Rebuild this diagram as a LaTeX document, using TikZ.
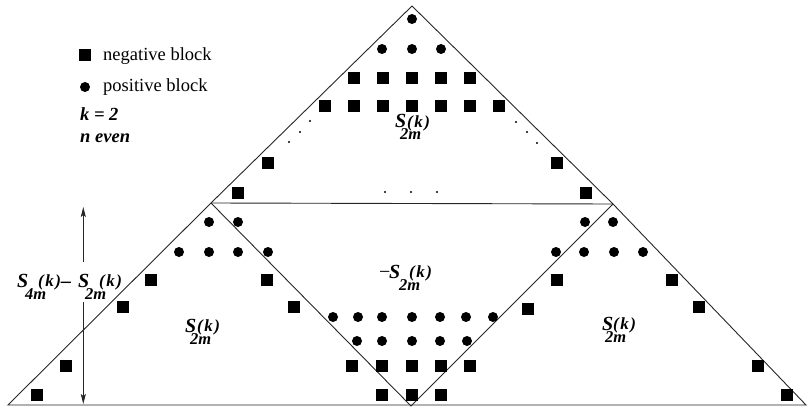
\documentclass[tikz,border=0pt]{standalone}
\usepackage{fontspec}
\setmainfont{Liberation Serif}
\usetikzlibrary{arrows.meta}
\newcommand{\bi}[1]{\textbf{\textit{#1}}}
% S with subscript #1, (k) offset #2, subscript offset #3
\newcommand{\Sk}[3]{\rlap{\fontsize{20}{20}\selectfont\bi{S}}\rlap{\kern#3\raisebox{-12pt}{\fontsize{16.5}{16.5}\selectfont\bi{#1}}}\kern#2\raisebox{0.5pt}{\fontsize{17}{17}\selectfont\bi{(\kern1.5pt k\kern1.5pt)}}}
\begin{document}
\begin{tikzpicture}[x=1pt,y=-1pt,
  edge/.style={draw=black!85,line width=0.9pt},
  negm/.style={rectangle,fill=black,minimum size=12pt,inner sep=0pt},
  posm/.style={circle,fill=black,minimum size=10pt,inner sep=0pt},
  dotm/.style={circle,fill=black,minimum size=2.4pt,inner sep=0pt},
  lbl/.style={anchor=base west,inner sep=0pt},
  legtext/.style={anchor=base west,inner sep=0pt,font=\fontsize{18.5}{20}\selectfont}]
\useasboundingbox (0,0) rectangle (808,409);
% corners
\coordinate (BL) at (8,405);
\coordinate (BR) at (806,405);
\coordinate (AP) at (412,6);
\coordinate (LA) at (211,203);
\coordinate (RA) at (613,204);
\coordinate (MB) at (411,406);
% outline
\draw[edge] (BL) -- (LA) -- (AP) -- (RA) -- (BR) -- cycle;
\draw[edge] (LA) -- (RA);
\draw[edge] (LA) -- (MB) -- (RA);
% legend
\node[negm] (legneg) at (85,55) {};
\node[legtext] (legnegt) at (103,61) {negative block};
\node[posm] (legpos) at (85,87) {};
\node[legtext] (legpost) at (103,92) {positive block};
\node[legtext] (legk) at (80,120.5) {\bi{k = 2}};
\node[legtext] (legn) at (80,142.5) {\bi{n even}};
% negative blocks
\foreach \x/\y [count=\i] in {354/78,383/78,412/78,441/78,470/78,
  325/106,354/106,383/106,412/106,441/106,470/106,499/106,
  268/163,238/193,557/163,586/193,
  151/280,267/280,123/307,294/307,66/366,37/395,
  352/366,382/366,412/366,441/366,470/366,382/395,412/395,441/395,
  557/280,672/280,528/309,699/307,758/366,787/395}
  \node[negm] (neg\i) at (\x,\y) {};
% positive blocks
\foreach \x/\y [count=\i] in {412/19,382/49,412/49,441/49,
  209/222,238/222,179/252,209/252,238/252,268/252,
  585/222,613/222,556/252,584/252,614/252,643/252,
  333/317,358/317,382/317,412/317,440/317,466/317,493/317,
  357/341,382/341,412/341,440/341,467/341}
  \node[posm] (pos\i) at (\x,\y) {};
% dots
\foreach \x/\y [count=\i] in {310/121,300/132,289/142,516/122,527/132,537/143,385/192,411/192,437/192}
  \node[dotm] (dot\i) at (\x,\y) {};
% labels
\node[lbl] (ltop) at (395,128) {\Sk{2m}{12pt}{5pt}};
\node[lbl] (lleft) at (185,332) {\Sk{2m}{12pt}{5pt}};
\node[lbl] (lright) at (602,330) {\Sk{2m}{11pt}{3pt}};
\node[lbl] (lmidm) at (379,278) {\fontsize{20}{20}\selectfont −};
\node[lbl] (lmid) at (389,278) {\Sk{2m}{20pt}{10pt}};
\node[lbl] (ldimA) at (17,287) {\Sk{4m}{21pt}{8pt}};
\node[lbl] (ldimD) at (61,287) {\fontsize{20}{20}\selectfont\bi{–}};
\node[lbl] (ldimB) at (78,287) {\Sk{2m}{21pt}{7pt}};
% dimension arrow
\coordinate (atop) at (83.3,207);
\coordinate (agap1) at (83.3,262);
\coordinate (agap2) at (83.3,302);
\coordinate (abot) at (83.3,404);
\draw[edge,-{Stealth[length=10pt,width=5pt,inset=2pt]}] (agap1) -- (atop);
\draw[edge,-{Stealth[length=10pt,width=5pt,inset=2pt]}] (agap2) -- (abot);
\end{tikzpicture}
\end{document}
